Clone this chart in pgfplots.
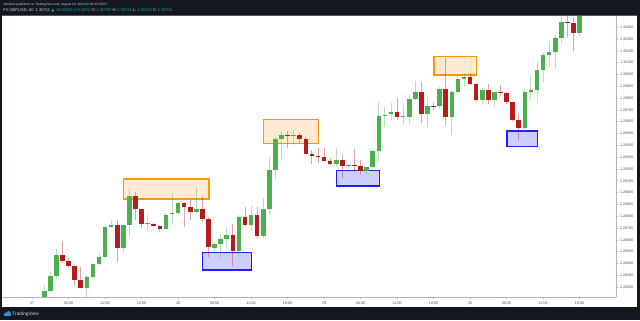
\documentclass[border=0pt]{standalone}
\usepackage{fontspec}
\setmainfont{Liberation Sans}
\usepackage{pgfplots}
\pgfplotsset{compat=1.18}
\usepackage{pgfplotstable}
\definecolor{tvdark}{HTML}{131722}
\definecolor{tvtext}{HTML}{D1D4DC}
\definecolor{tvteal}{HTML}{26A69A}
\definecolor{cgreen}{HTML}{4CAF50}
\definecolor{cred}{HTML}{B71C1C}
\definecolor{obord}{HTML}{FF9800}
\definecolor{ofill}{HTML}{FFEBD2}
\definecolor{bbord}{HTML}{1E1EFF}
\definecolor{bfill}{HTML}{CDCDFF}
\definecolor{axgray}{HTML}{B2B5BE}
\definecolor{lblgray}{HTML}{50535E}
\definecolor{tvblue}{HTML}{2E8FE6}

\pgfplotstableread{
h O H L C
2 1.28118 1.28217 1.28115 1.28169
3 1.28169 1.28330 1.28160 1.28293
4 1.28293 1.28522 1.28274 1.28471
9 1.28194 1.28302 1.28118 1.28287
10 1.28287 1.28406 1.28274 1.28392
11 1.28392 1.28499 1.28386 1.28454
12 1.28454 1.28725 1.28452 1.28706
13 1.28706 1.28768 1.28697 1.28723
15 1.28533 1.28734 1.28491 1.28723
16 1.28723 1.29028 1.28626 1.28971
19 1.28734 1.28810 1.28677 1.28744
22 1.28694 1.28824 1.28689 1.28813
23 1.28816 1.28999 1.28725 1.28825
24 1.28824 1.28923 1.28810 1.28914
27 1.28838 1.29045 1.28824 1.28861
30 1.28533 1.28584 1.28480 1.28564
31 1.28564 1.28659 1.28443 1.28604
32 1.28604 1.28711 1.28541 1.28643
34 1.28508 1.28810 1.28452 1.28796
36 1.28725 1.28886 1.28677 1.28810
38 1.28635 1.28951 1.28618 1.28863
39 1.28863 1.29304 1.28810 1.29191
40 1.29191 1.29473 1.29112 1.29456
41 1.29456 1.29524 1.29276 1.29485
43 1.29479 1.29530 1.29403 1.29488
50 1.29242 1.29375 1.29228 1.29278
52 1.29229 1.29242 1.29200 1.29237
55 1.29185 1.29219 1.29155 1.29214
56 1.29214 1.29361 1.29206 1.29352
57 1.29352 1.29770 1.29255 1.29649
58 1.29651 1.29727 1.29558 1.29661
59 1.29663 1.29756 1.29615 1.29681
61 1.29642 1.29742 1.29577 1.29650
62 1.29644 1.29826 1.29587 1.29793
63 1.29793 1.29949 1.29784 1.29852
65 1.29667 1.29814 1.29555 1.29733
67 1.29733 1.29897 1.29714 1.29876
69 1.29638 1.29869 1.29488 1.29849
70 1.29849 1.29996 1.29843 1.29962
71 1.29962 1.30010 1.29897 1.29981
74 1.29788 1.29883 1.29742 1.29869
76 1.29788 1.29854 1.29722 1.29848
81 1.29551 1.29875 1.29516 1.29854
82 1.29854 1.29987 1.29784 1.29869
83 1.29869 1.30114 1.29756 1.30042
84 1.30042 1.30180 1.29939 1.30165
85 1.30165 1.30278 1.30066 1.30188
86 1.30188 1.30335 1.30053 1.30312
87 1.30312 1.30504 1.30269 1.30447
90 1.30349 1.30631 1.30326 1.30589
}\greentab

\pgfplotstableread{
h O H L C
5 1.28471 1.28592 1.28401 1.28423
6 1.28423 1.28443 1.28359 1.28378
7 1.28378 1.28386 1.28217 1.28259
8 1.28259 1.28372 1.28189 1.28194
14 1.28723 1.28768 1.28414 1.28533
17 1.28971 1.29007 1.28768 1.28858
18 1.28858 1.28861 1.28697 1.28736
20 1.28736 1.28745 1.28711 1.28719
21 1.28717 1.28725 1.28669 1.28694
25 1.28914 1.28923 1.28706 1.28880
26 1.28880 1.28937 1.28768 1.28838
28 1.28861 1.28967 1.28751 1.28776
29 1.28776 1.28796 1.28452 1.28536
33 1.28643 1.28734 1.28381 1.28508
35 1.28796 1.28880 1.28706 1.28725
37 1.28810 1.28875 1.28604 1.28635
42 1.29490 1.29524 1.29375 1.29479
44 1.29485 1.29502 1.29417 1.29456
45 1.29456 1.29468 1.29324 1.29327
46 1.29327 1.29361 1.29242 1.29312
47 1.29310 1.29377 1.29250 1.29301
48 1.29299 1.29375 1.29261 1.29270
49 1.29270 1.29290 1.29233 1.29242
51 1.29278 1.29318 1.29121 1.29225
53 1.29232 1.29365 1.29174 1.29223
54 1.29221 1.29272 1.29153 1.29185
60 1.29681 1.29798 1.29615 1.29638
64 1.29852 1.29939 1.29587 1.29667
66 1.29733 1.29770 1.29699 1.29725
68 1.29876 1.30144 1.29572 1.29638
72 1.29981 1.30010 1.29911 1.29917
73 1.29917 1.29931 1.29770 1.29788
75 1.29869 1.29920 1.29748 1.29788
77 1.29849 1.29911 1.29818 1.29841
78 1.29843 1.29849 1.29750 1.29763
79 1.29763 1.29770 1.29609 1.29615
80 1.29615 1.29665 1.29445 1.29551
88 1.30447 1.30504 1.30315 1.30439
89 1.30439 1.30490 1.30202 1.30349
}\redtab

\begin{document}
\begin{tikzpicture}[x=1bp,y=1bp]
\fill[tvdark] (0,0) rectangle (640,320);
\fill[white] (2,13) rectangle (637,304.5);
\begin{axis}[
  at={(2bp,23bp)}, anchor=south west,
  scale only axis, width=614bp, height=281.5bp,
  xmin=-4.95, xmax=95.99, ymin=1.28115, ymax=1.305,
  axis x line*=bottom, axis y line*=right,
  axis line style={draw=axgray, line width=0.6bp},
  xtick={0,6,12,18,24,30,36,42,48,54,60,66,72,78,84,90},
  xticklabels={27,06:00,12:00,18:00,28,06:00,12:00,18:00,29,06:00,12:00,18:00,30,06:00,12:00,18:00},
  ytick={1.282,1.283,1.284,1.285,1.286,1.287,1.288,1.289,1.29,1.291,1.292,1.293,1.294,1.295,1.296,1.297,1.298,1.299,1.3,1.301,1.302,1.303,1.304,1.305},
  /pgf/number format/assume math mode=true,
  yticklabel style={/pgf/number format/fixed, /pgf/number format/fixed zerofill, /pgf/number format/precision=5, anchor=west, xshift=0.8bp},
  xticklabel style={yshift=-2bp},
  tick style={draw=axgray, line width=0.5bp},
  major tick length=2bp,
  tick align=outside,
  ticklabel style={font=\fontsize{3.7}{4}\selectfont, text=lblgray, inner sep=1bp},
  clip=true,
  every axis plot/.append style={draw=none, mark=none},
]
% zones
\addplot[fill=ofill, draw=obord, line width=1.3bp] coordinates {(15,1.29115) (29.08,1.29115) (29.08,1.28946) (15,1.28946)} --cycle;
\addplot[fill=bfill, draw=bbord, line width=1.3bp] coordinates {(28.05,1.28494) (36.03,1.28494) (36.03,1.28344) (28.05,1.28344)} --cycle;
\addplot[fill=ofill, draw=obord, line width=1.3bp] coordinates {(38.07,1.29617) (47.05,1.29617) (47.05,1.29417) (38.07,1.29417)} --cycle;
\addplot[fill=bfill, draw=bbord, line width=1.3bp] coordinates {(50.07,1.29185) (57.08,1.29185) (57.08,1.29056) (50.07,1.29056)} --cycle;
\addplot[fill=ofill, draw=obord, line width=1.3bp] coordinates {(66.07,1.30154) (73.09,1.30154) (73.09,1.29996) (66.07,1.29996)} --cycle;
\addplot[fill=bfill, draw=bbord, line width=1.3bp] coordinates {(78.07,1.29521) (83.12,1.29521) (83.12,1.29389) (78.07,1.29389)} --cycle;
% wicks
\addplot[draw=none, mark=none, error bars/.cd, y dir=plus, y explicit, error mark=none,
  error bar style={draw=cgreen, draw opacity=0.4, line width=1bp}]
  table[x=h, y=L, y error plus expr=\thisrow{H}-\thisrow{L}] {\greentab};
\addplot[draw=none, mark=none, error bars/.cd, y dir=plus, y explicit, error mark=none,
  error bar style={draw=cred, draw opacity=0.4, line width=1bp}]
  table[x=h, y=L, y error plus expr=\thisrow{H}-\thisrow{L}] {\redtab};
% bodies
\addplot[draw=none, mark=none, error bars/.cd, y dir=plus, y explicit, error mark=none,
  error bar style={draw=cgreen, line width=4.6bp}]
  table[x=h, y=O, y error plus expr=\thisrow{C}-\thisrow{O}] {\greentab};
\addplot[draw=none, mark=none, error bars/.cd, y dir=plus, y explicit, error mark=none,
  error bar style={draw=cred, line width=4.6bp}]
  table[x=h, y=C, y error plus expr=\thisrow{O}-\thisrow{C}] {\redtab};
\end{axis}
% header
\fill[tvdark] (0,304.5) rectangle (640,320);
\draw[gray!60!tvdark, line width=0.5bp] (2,304.6) -- (637,304.6);
\node[anchor=base west, inner sep=0, text=tvtext, font=\fontsize{3.2}{4}\selectfont] at (3,314.3) {Janefant published on TradingView.com, August 10, 2020 22:28:43 CEST};
\node[anchor=base west, inner sep=0, text=tvtext, font=\fontsize{4.1}{5}\selectfont] at (3,308.3) {FX:GBPUSD, 60\enspace 1.30711 \textcolor{tvteal}{\fontspec{DejaVu Sans}▲} \textcolor{tvteal}{+0.00229 (+0.18\%)} O:\,\textcolor{tvteal}{1.30752} H:\,\textcolor{tvteal}{1.30761} L:\,\textcolor{tvteal}{1.30701} C:\,\textcolor{tvteal}{1.30711}};
% footer
\fill[tvdark] (0,0) rectangle (640,13);
\fill[tvblue] (3.5,4.3) rectangle (11,6.5);
\fill[tvblue] (6,6.3) circle (1.7);
\fill[tvblue] (8.8,6.9) circle (2);
\node[anchor=base west, inner sep=0, text=tvtext, font=\fontsize{4.8}{5}\selectfont] at (12.3,4.2) {TradingView};
\end{tikzpicture}
\end{document}
